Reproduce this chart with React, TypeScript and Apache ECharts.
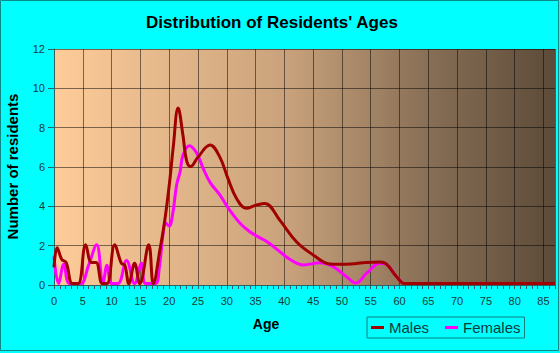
import React, { useEffect, useRef } from "react";
import * as echarts from "echarts";

const FONT = '"Liberation Sans", Arial, sans-serif';

const maleAges = [0, 0.55, 1.35, 2.1, 3.2, 4.2, 5.5, 6.5, 7.3, 8.4, 9.2, 10.55, 11.7, 12.3, 13.0, 14.0, 14.9, 16.45, 17.25, 18.4, 19.2, 20.1, 20.7, 21.55, 22.4, 23.0, 23.7, 25.0, 27.1, 28.8, 30.2, 31.7, 33.4, 35.0, 36.6, 39.2, 42.1, 45.0, 47.9, 50.8, 53.7, 56.6, 57.7, 59.5, 60.9, 62, 65, 70, 75, 80, 87];
const maleValues = [0.9, 1.9, 1.3, 1.15, 0.07, 0.07, 2.05, 1.15, 1.15, 0.07, 0.07, 2.05, 1.1, 1.0, 0.07, 1.1, 0.07, 2.05, 0.07, 1.8, 3.2, 5.3, 7.0, 9.0, 7.6, 6.35, 6.02, 6.5, 7.12, 6.5, 5.42, 4.4, 3.9, 4.05, 4.15, 3.3, 2.2, 1.53, 1.07, 1.05, 1.13, 1.17, 1.07, 0.42, 0.07, 0.08, 0.08, 0.08, 0.08, 0.08, 0.08];

const femaleAges = [0, 0.8, 1.7, 2.7, 4.6, 6.0, 7.4, 8.5, 9.2, 10.0, 11.1, 12.6, 14.0, 15.2, 15.9, 17.6, 18.3, 18.9, 19.4, 20.0, 20.6, 21.3, 21.9, 22.4, 23.5, 24.8, 25.9, 27.1, 28.8, 30.5, 32.3, 34.0, 35.7, 37.0, 39.2, 41.0, 43.3, 46.2, 48.5, 50.8, 52.4, 54.3, 56.6, 57.5, 59.5, 61, 65, 70, 75, 80, 87];
const femaleValues = [1.45, 0.07, 1.05, 0.07, 0.07, 1.0, 2.05, 0.07, 1.0, 0.07, 0.07, 1.25, 0.07, 1.1, 0.07, 0.07, 0.9, 2.5, 3.15, 3.0, 3.6, 5.1, 5.76, 6.6, 7.08, 6.7, 5.93, 5.22, 4.58, 3.81, 3.14, 2.71, 2.41, 2.2, 1.7, 1.3, 1.02, 1.13, 0.93, 0.42, 0.1, 0.6, 1.1, 1.08, 0.42, 0.07, 0.07, 0.07, 0.07, 0.07, 0.07];

const seriesNames = ["Males", "Females"];
const titleText = "Distribution of Residents' Ages";
const xName = "Age";
const yName = "Number of residents";

const axisColor = "#2e6464";
const labelColor = "#173a3a";

export default function App() {
  const ref = useRef<HTMLDivElement>(null);
  useEffect(() => {
    const chart = echarts.init(ref.current as HTMLDivElement, null, { renderer: "svg" });
    const pair = (xs: number[], ys: number[]) => xs.map((x, i) => [x, ys[i]]);
    chart.setOption({
      animation: false,
      backgroundColor: "#00ffff",
      grid: {
        left: 54,
        right: 5,
        top: 49,
        bottom: 68,
        show: true,
        borderWidth: 0,
        backgroundColor: new echarts.graphic.LinearGradient(0, 0, 1, 0, [
          { offset: 0, color: "#fecc99" },
          { offset: 0.47, color: "#c8a17b" },
          { offset: 0.75, color: "#876e55" },
          { offset: 1, color: "#5c4b39" },
        ]),
      },
      xAxis: {
        type: "value",
        min: 0,
        max: 87,
        interval: 5,
        axisLine: { show: true, onZero: false, lineStyle: { color: axisColor, width: 1 } },
        axisTick: { show: true, length: 4, lineStyle: { color: axisColor } },
        minorTick: { show: true, splitNumber: 5, length: 4, lineStyle: { color: axisColor } },
        axisLabel: { showMaxLabel: false, fontSize: 11, color: labelColor, margin: 10, fontFamily: FONT },
        splitLine: { show: true, lineStyle: { color: "rgba(0,0,0,0.5)", width: 1 } },
      },
      yAxis: {
        type: "value",
        min: 0,
        max: 12,
        interval: 2,
        axisLine: { show: true, lineStyle: { color: axisColor, width: 1 } },
        axisTick: { show: true, length: 6, lineStyle: { color: axisColor } },
        axisLabel: { fontSize: 11, color: labelColor, margin: 9, fontFamily: FONT },
        splitLine: { show: true, lineStyle: { color: "rgba(0,0,0,0.5)", width: 1 } },
      },
      legend: {
        data: seriesNames,
        left: 367,
        top: 317,
        icon: "rect",
        itemWidth: 13,
        itemHeight: 3,
        itemGap: 16,
        padding: [3, 4, 3, 4],
        borderColor: "#0f7f7f",
        borderWidth: 1,
        textStyle: { fontSize: 15, color: "#0b3b3b", fontFamily: FONT },
      },
      series: [
        {
          name: seriesNames[1],
          type: "line",
          data: pair(femaleAges, femaleValues),
          smooth: 0.4,
          showSymbol: false,
          color: "#ff00ff",
          lineStyle: { width: 3, color: "#ff00ff" },
        },
        {
          name: seriesNames[0],
          type: "line",
          data: pair(maleAges, maleValues),
          smooth: 0.4,
          showSymbol: false,
          color: "#a00000",
          lineStyle: { width: 3, color: "#a00000" },
        },
      ],
      graphic: [
        {
          type: "rect",
          shape: { x: 0.5, y: 0.5, width: 558, height: 350 },
          style: { fill: "none", stroke: "#108888", lineWidth: 1 },
          silent: true,
        },
        {
          type: "text",
          x: 272,
          y: 22.2,
          style: {
            text: titleText,
            font: `bold 17px ${FONT}`,
            fill: "#000",
            align: "center",
            verticalAlign: "middle",
          },
        },
        {
          type: "text",
          x: 12,
          y: 166.5,
          rotation: Math.PI / 2,
          style: {
            text: yName,
            font: `bold 15px ${FONT}`,
            fill: "#000",
            align: "center",
            verticalAlign: "middle",
          },
        },
        {
          type: "text",
          x: 266,
          y: 323.8,
          style: {
            text: xName,
            font: `bold 14px ${FONT}`,
            fill: "#000",
            align: "center",
            verticalAlign: "middle",
          },
        },
      ],
    });
    return () => chart.dispose();
  }, []);
  return (
    <div
      ref={ref}
      style={{ position: "fixed", left: 0, top: 0, width: 560, height: 353 }}
    />
  );
}
